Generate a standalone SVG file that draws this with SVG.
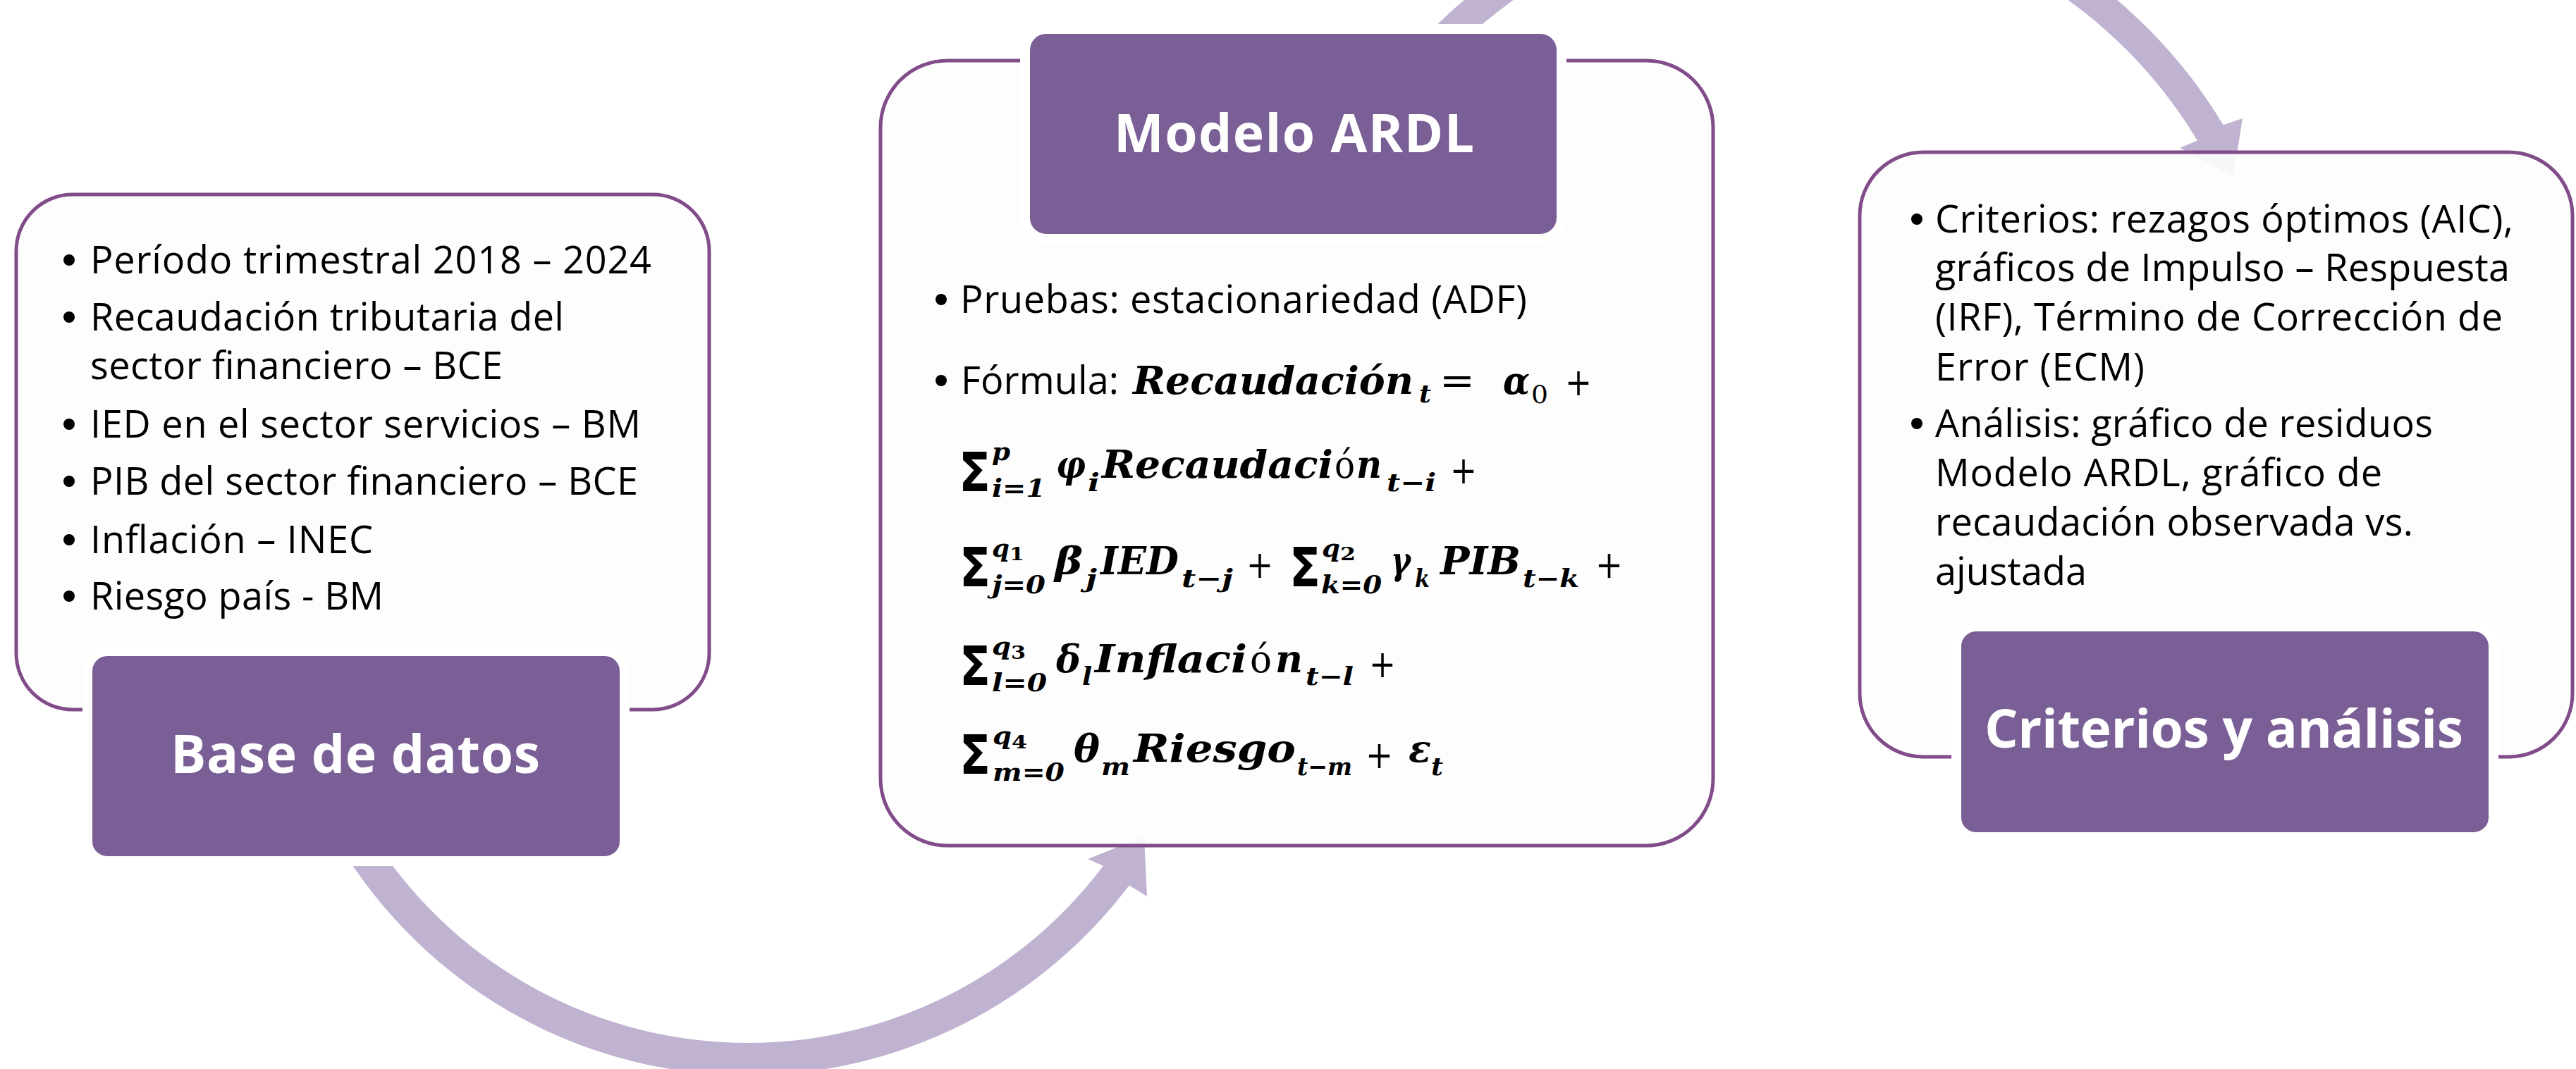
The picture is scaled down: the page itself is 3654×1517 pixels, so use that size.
<svg xmlns="http://www.w3.org/2000/svg" width="3654" height="1517" viewBox="0 0 3654 1517">
<defs>
<style>
.panel{fill:#FDFDFD;fill-opacity:0.9;stroke:#824C8A;stroke-width:5}
.box{fill:#7A5F96;stroke:#FFFFFF;stroke-width:14}
.arrow{fill:#C0B3D1}
.title{font-family:"Open Sans","Liberation Sans",sans-serif;font-weight:bold;font-size:75px;fill:#FFFFFF}
.t{font-family:"Open Sans","Liberation Sans",sans-serif;font-size:54px;fill:#000000}
.dot{fill:#000000}
.m{font-family:"DejaVu Serif",serif;font-weight:bold;font-style:italic;font-size:55px;fill:#000000}
.s{font-family:"DejaVu Serif",serif;font-weight:bold;font-style:italic;font-size:36px;fill:#000000}
.ss{font-family:"DejaVu Serif",serif;font-weight:bold;font-size:26px;fill:#000000}
.u{font-family:"DejaVu Serif",serif;font-size:54px;fill:#000000}
.us{font-family:"DejaVu Serif",serif;font-size:36px;fill:#000000}
.sg{font-family:"DejaVu Sans",sans-serif;font-weight:bold;font-size:76px;fill:#000000}
</style>
</defs>
<rect width="3654" height="1517" fill="#FFFFFF"/>
<g id="connectors">
<path class="arrow" d="M 474.7 1187.5 A 677 677 0 0 0 1601.7 1256.4 L 1627 1272 L 1623 1187 L 1543 1219 L 1564.9 1228.7 A 631 631 0 0 1 514.5 1164.5 Z"/>
<path class="arrow" d="M 1991.5 85.8 A 716 716 0 0 1 3153.7 177.2 L 3181 168 L 3168 250 L 3092 210 L 3116.9 199.4 A 673 673 0 0 0 2024.5 113.4 Z"/>
</g>
<g id="node-base-datos">
<rect class="panel" x="23" y="276" width="983" height="731" rx="80"/>
<rect class="box" x="124" y="924" width="762" height="298" rx="28"/>
<text class="title" x="242" y="1097" textLength="524">Base de datos</text>
<circle class="dot" cx="98" cy="369" r="8"/>
<text class="t" x="128" y="388" textLength="796">Período trimestral 2018 – 2024</text>
<circle class="dot" cx="98" cy="450" r="8"/>
<text class="t" x="128" y="469" textLength="672">Recaudación tributaria del</text>
<text class="t" x="128" y="538" textLength="585">sector financiero – BCE</text>
<circle class="dot" cx="98" cy="602" r="8"/>
<text class="t" x="128" y="621" textLength="781">IED en el sector servicios – BM</text>
<circle class="dot" cx="98" cy="683" r="8"/>
<text class="t" x="128" y="702" textLength="777">PIB del sector financiero – BCE</text>
<circle class="dot" cx="98" cy="766" r="8"/>
<text class="t" x="128" y="785" textLength="401">Inflación – INEC</text>
<circle class="dot" cx="98" cy="846" r="8"/>
<text class="t" x="128" y="865" textLength="416">Riesgo país - BM</text>
</g>
<g id="node-modelo-ardl">
<rect class="panel" x="1249" y="86" width="1181" height="1114" rx="95"/>
<rect class="box" x="1454" y="41" width="761" height="298" rx="30"/>
<text class="title" x="1580" y="216" textLength="511">Modelo ARDL</text>
<circle class="dot" cx="1335" cy="425" r="8"/>
<text class="t" x="1362" y="444" textLength="804">Pruebas: estacionariedad (ADF)</text>
<circle class="dot" cx="1335" cy="540" r="8"/>
<text class="t" x="1363" y="559" textLength="224">Fórmula:</text>
<g id="formula">
<text class="m" x="1607" y="559" textLength="398" lengthAdjust="spacingAndGlyphs" style="font-size:54px">Recaudación</text>
<text class="s" x="2013" y="571" textLength="17" lengthAdjust="spacingAndGlyphs">t</text>
<text class="u" x="2042" y="559" textLength="50" lengthAdjust="spacingAndGlyphs">=</text>
<text class="m" x="2132" y="559" textLength="38" lengthAdjust="spacingAndGlyphs">α</text>
<text class="us" x="2172" y="572" textLength="24" lengthAdjust="spacingAndGlyphs">0</text>
<text class="u" x="2220" y="561" textLength="38" lengthAdjust="spacingAndGlyphs">+</text>

<text class="sg" x="1360" y="697" textLength="45" lengthAdjust="spacingAndGlyphs">Σ</text>
<text class="s" x="1407" y="653" textLength="26" lengthAdjust="spacingAndGlyphs">p</text>
<text class="s" x="1407" y="705" textLength="76" lengthAdjust="spacingAndGlyphs">i=1</text>
<text class="m" x="1498" y="678" textLength="42" lengthAdjust="spacingAndGlyphs">φ</text>
<text class="s" x="1543" y="697" textLength="17" lengthAdjust="spacingAndGlyphs">i</text>
<text class="m" x="1563" y="678" textLength="328" lengthAdjust="spacingAndGlyphs">Recaudaci</text>
<text class="u" x="1893" y="678" textLength="29" lengthAdjust="spacingAndGlyphs">ó</text>
<text class="m" x="1924" y="678" textLength="36" lengthAdjust="spacingAndGlyphs">n</text>
<text class="s" x="1967" y="697" textLength="70" lengthAdjust="spacingAndGlyphs">t−i</text>
<text class="u" x="2057" y="686" textLength="38" lengthAdjust="spacingAndGlyphs">+</text>

<text class="sg" x="1361" y="832" textLength="44" lengthAdjust="spacingAndGlyphs">Σ</text>
<text class="s" x="1407" y="790" textLength="25" lengthAdjust="spacingAndGlyphs">q</text>
<text class="ss" x="1432" y="795" textLength="21" lengthAdjust="spacingAndGlyphs">1</text>
<text class="s" x="1407" y="842" textLength="76" lengthAdjust="spacingAndGlyphs">j=0</text>
<text class="m" x="1496" y="815" textLength="40" lengthAdjust="spacingAndGlyphs">β</text>
<text class="s" x="1540" y="833" textLength="16" lengthAdjust="spacingAndGlyphs">j</text>
<text class="m" x="1561" y="815" textLength="111" lengthAdjust="spacingAndGlyphs">IED</text>
<text class="s" x="1676" y="833" textLength="73" lengthAdjust="spacingAndGlyphs">t−j</text>
<text class="u" x="1768" y="820" textLength="38" lengthAdjust="spacingAndGlyphs">+</text>
<text class="sg" x="1829" y="832" textLength="44" lengthAdjust="spacingAndGlyphs">Σ</text>
<text class="s" x="1875" y="790" textLength="26" lengthAdjust="spacingAndGlyphs">q</text>
<text class="ss" x="1901" y="795" textLength="22" lengthAdjust="spacingAndGlyphs">2</text>
<text class="s" x="1874" y="842" textLength="86" lengthAdjust="spacingAndGlyphs">k=0</text>
<text class="m" x="1973" y="815" textLength="28" lengthAdjust="spacingAndGlyphs">γ</text>
<text class="s" x="2007" y="833" textLength="21" lengthAdjust="spacingAndGlyphs">k</text>
<text class="m" x="2043" y="815" textLength="114" lengthAdjust="spacingAndGlyphs">PIB</text>
<text class="s" x="2160" y="833" textLength="80" lengthAdjust="spacingAndGlyphs">t−k</text>
<text class="u" x="2263" y="820" textLength="39" lengthAdjust="spacingAndGlyphs">+</text>

<text class="sg" x="1361" y="972" textLength="44" lengthAdjust="spacingAndGlyphs">Σ</text>
<text class="s" x="1407" y="929" textLength="27" lengthAdjust="spacingAndGlyphs">q</text>
<text class="ss" x="1434" y="935" textLength="21" lengthAdjust="spacingAndGlyphs">3</text>
<text class="s" x="1407" y="981" textLength="78" lengthAdjust="spacingAndGlyphs">l=0</text>
<text class="m" x="1498" y="954" textLength="35" lengthAdjust="spacingAndGlyphs">δ</text>
<text class="s" x="1535" y="972" textLength="14" lengthAdjust="spacingAndGlyphs">l</text>
<text class="m" x="1553" y="954" textLength="216" lengthAdjust="spacingAndGlyphs">Inflaci</text>
<text class="u" x="1773" y="954" textLength="31" lengthAdjust="spacingAndGlyphs">ó</text>
<text class="m" x="1809" y="954" textLength="39" lengthAdjust="spacingAndGlyphs">n</text>
<text class="s" x="1852" y="972" textLength="68" lengthAdjust="spacingAndGlyphs">t−l</text>
<text class="u" x="1942" y="961" textLength="38" lengthAdjust="spacingAndGlyphs">+</text>

<text class="sg" x="1361" y="1098" textLength="44" lengthAdjust="spacingAndGlyphs">Σ</text>
<text class="s" x="1408" y="1056" textLength="27" lengthAdjust="spacingAndGlyphs">q</text>
<text class="ss" x="1435" y="1062" textLength="22" lengthAdjust="spacingAndGlyphs">4</text>
<text class="s" x="1408" y="1108" textLength="102" lengthAdjust="spacingAndGlyphs">m=0</text>
<text class="m" x="1523" y="1081" textLength="37" lengthAdjust="spacingAndGlyphs">θ</text>
<text class="s" x="1562" y="1100" textLength="41" lengthAdjust="spacingAndGlyphs">m</text>
<text class="m" x="1608" y="1081" textLength="230" lengthAdjust="spacingAndGlyphs">Riesgo</text>
<text class="s" x="1840" y="1100" textLength="78" lengthAdjust="spacingAndGlyphs">t−m</text>
<text class="u" x="1937" y="1090" textLength="39" lengthAdjust="spacingAndGlyphs">+</text>
<text class="m" x="1998" y="1081" textLength="32" lengthAdjust="spacingAndGlyphs">ε</text>
<text class="s" x="2030" y="1100" textLength="17" lengthAdjust="spacingAndGlyphs">t</text>
</g>
</g>
<g id="node-criterios">
<rect class="panel" x="2638" y="216" width="1011" height="858" rx="90"/>
<rect class="box" x="2775" y="889" width="762" height="299" rx="28"/>
<text class="title" x="2815" y="1061" textLength="679">Criterios y análisis</text>
<circle class="dot" cx="2719" cy="311" r="8"/>
<text class="t" x="2745" y="330" textLength="820">Criterios: rezagos óptimos (AIC),</text>
<text class="t" x="2745" y="399" textLength="815">gráficos de Impulso – Respuesta</text>
<text class="t" x="2745" y="469" textLength="805">(IRF), Término de Corrección de</text>
<text class="t" x="2745" y="540" textLength="297">Error (ECM)</text>
<circle class="dot" cx="2719" cy="601" r="8"/>
<text class="t" x="2745" y="620" textLength="706">Análisis: gráfico de residuos</text>
<text class="t" x="2745" y="690" textLength="634">Modelo ARDL, gráfico de</text>
<text class="t" x="2745" y="760" textLength="678">recaudación observada vs.</text>
<text class="t" x="2745" y="830" textLength="215">ajustada</text>
</g>
</svg>
